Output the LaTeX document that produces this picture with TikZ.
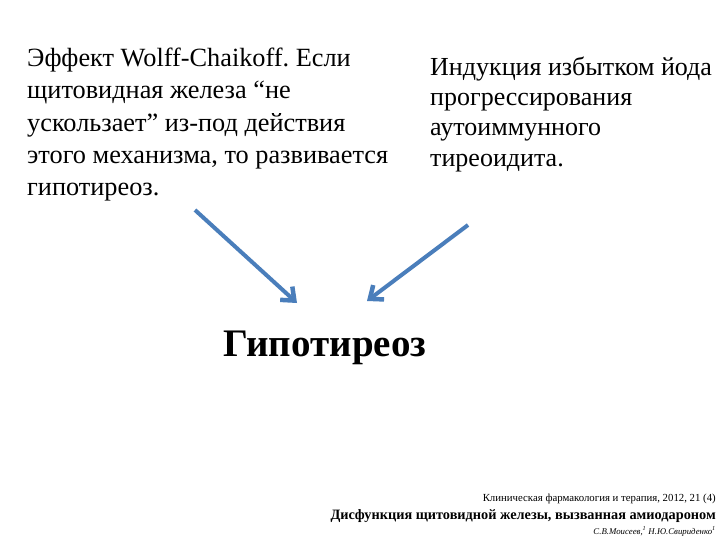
\documentclass[tikz,border=0pt]{standalone}
\usepackage{fontspec}
\setmainfont{Liberation Serif}
\usetikzlibrary{arrows.meta}
\frenchspacing
\begin{document}
\begin{tikzpicture}[x=1pt,y=-1pt,
  txt/.style={anchor=north west,align=left,inner sep=0pt},
  arr/.style={draw={rgb,255:red,74;green,126;blue,187},line width=4pt,-{Straight Barb[length=11pt,width=18pt,line width=4.5pt]}}]
\useasboundingbox[fill=white] (0,0) rectangle (720,540);
\node[txt,font=\fontsize{26.3}{32.2}\selectfont] (left) at (27,48) {Эффект Wolff-Chaikoff. Если\\щитовидная железа “не\\ускользает” из-под действия\\этого механизма, то развивается\\гипотиреоз.};
\node[txt,font=\fontsize{26}{30.3}\selectfont] (right) at (430,56.5) {Индукция избытком йода\\прогрессирования\\аутоиммунного\\тиреоидита.};
\node[anchor=base west,inner sep=0pt,font=\fontsize{39}{42}\selectfont\bfseries] (hypo) at (223,356) {Гипотиреоз};
\coordinate (a1) at (195,210);
\coordinate (a2) at (297,303);
\coordinate (b1) at (468,225);
\coordinate (b2) at (367,301);
\draw[arr] (a1) -- (a2);
\draw[arr] (b1) -- (b2);
\node[anchor=base east,inner sep=0pt,font=\fontsize{10.8}{12}\selectfont] (j) at (716,501) {Клиническая фармакология и терапия, 2012, 21 (4)};
\node[anchor=base east,inner sep=0pt,font=\fontsize{14.3}{16}\selectfont\bfseries] (t) at (716,519) {Дисфункция щитовидной железы, вызванная амиодароном};
\node[anchor=base east,inner sep=0pt,font=\fontsize{8.8}{10}\selectfont\itshape] (au) at (716,534) {С.В.Моисеев,\textsuperscript{1} Н.Ю.Свириденко\textsuperscript{1}};
\end{tikzpicture}
\end{document}
